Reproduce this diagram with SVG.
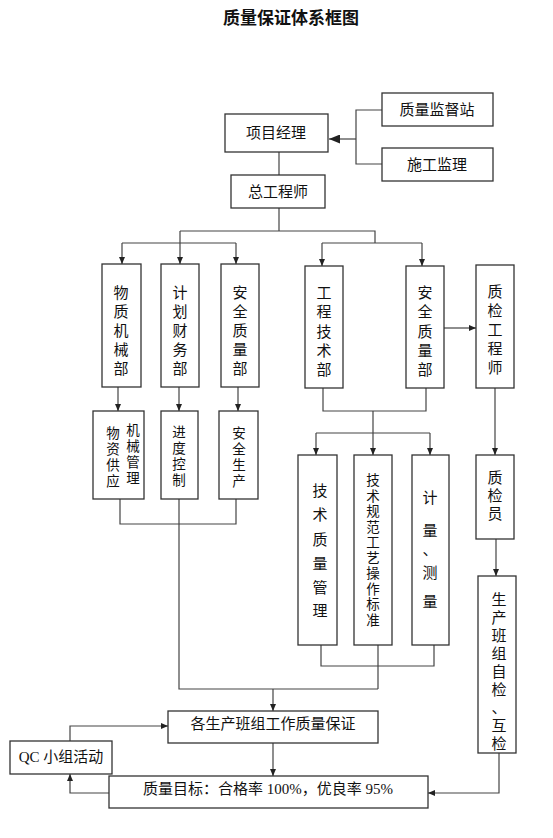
<svg xmlns="http://www.w3.org/2000/svg" width="553" height="838" viewBox="0 0 553 838">
<defs>
<marker id="ah" markerUnits="userSpaceOnUse" markerWidth="8" markerHeight="6" refX="7" refY="3" orient="auto">
<path d="M0,0 L7,3 L0,6 z" fill="#222"/>
</marker>
<marker id="ahL" markerUnits="userSpaceOnUse" markerWidth="12" markerHeight="9" refX="11" refY="4.5" orient="auto">
<path d="M0,0 L11,4.5 L0,9 z" fill="#222"/>
</marker>
</defs>
<style>
.b{fill:#fff;stroke:#333;stroke-width:1.3}
.t{font-family:"Liberation Serif","Noto Sans CJK SC",serif;font-size:15px;fill:#111;text-anchor:middle}
.v{font-family:"Liberation Sans","Noto Sans CJK SC",sans-serif;font-size:15px;fill:#111;text-anchor:middle}
.s{font-size:13.5px}
.c{fill:none;stroke:#444;stroke-width:1.2}
.a{marker-end:url(#ah)}
</style>
<rect width="553" height="838" fill="#fff"/>
<text x="291" y="24" style="font-family:'Liberation Sans','Noto Sans CJK SC',sans-serif;font-size:17px;font-weight:bold;fill:#111;text-anchor:middle">质量保证体系框图</text>

<g id="connectors">
<path class="c" d="M382,110 H356 V164 H382"/>
<path class="c" d="M356,139 H329" marker-end="url(#ahL)"/>
<path class="c" d="M279,152 V175"/>
<path class="c" d="M279,208 V231"/>
<path class="c" d="M180,231 H375 V243"/>
<path class="c a" d="M180,231 V264"/>
<path class="c" d="M122,243 H236"/>
<path class="c a" d="M122,243 V264"/>
<path class="c a" d="M236,243 V264"/>
<path class="c" d="M322,243 H422"/>
<path class="c a" d="M322,243 V266"/>
<path class="c a" d="M422,243 V266"/>
<path class="c a" d="M118,387 V411"/>
<path class="c a" d="M179,387 V411"/>
<path class="c a" d="M238,387 V411"/>
<path class="c" d="M120,499 V524 H236 V499"/>
<path class="c" d="M179,499 V689 H378"/>
<path class="c" d="M323,388 V411 H426 V388"/>
<path class="c a" d="M373,411 V455"/>
<path class="c" d="M316,433 H430"/>
<path class="c a" d="M316,433 V455"/>
<path class="c a" d="M430,433 V455"/>
<path class="c" d="M321,645 V666 H434 V645"/>
<path class="c" d="M378,645 V689"/>
<path class="c a" d="M273,689 V711"/>
<path class="c a" d="M273,743 V776"/>
<path class="c a" d="M444,328 H476"/>
<path class="c a" d="M495,388 V455"/>
<path class="c a" d="M496,539 V576"/>
<path class="c a" d="M499,753 V793 H428"/>
<path class="c a" d="M70,741 V726 H168"/>
<path class="c a" d="M109,793 H70 V774"/>
</g>

<g id="n-xmjl"><rect class="b" x="225" y="114" width="103" height="38"/><text class="t" x="276" y="138">项目经理</text></g>
<g id="n-zljdz"><rect class="b" x="382" y="93" width="111" height="33"/><text class="t" x="437" y="115">质量监督站</text></g>
<g id="n-sgjl"><rect class="b" x="382" y="148" width="111" height="33"/><text class="t" x="437" y="170">施工监理</text></g>
<g id="n-zgcs"><rect class="b" x="231" y="175" width="94" height="33"/><text class="t" x="278" y="197">总工程师</text></g>

<g id="n-wzjxb"><rect class="b" x="102" y="264" width="39" height="123"/>
<text class="v"><tspan x="121" y="298">物</tspan><tspan x="121" y="317">质</tspan><tspan x="121" y="336">机</tspan><tspan x="121" y="355">械</tspan><tspan x="121" y="374">部</tspan></text></g>
<g id="n-jhcwb"><rect class="b" x="161" y="264" width="38" height="123"/>
<text class="v"><tspan x="180" y="298">计</tspan><tspan x="180" y="317">划</tspan><tspan x="180" y="336">财</tspan><tspan x="180" y="355">务</tspan><tspan x="180" y="374">部</tspan></text></g>
<g id="n-aqzlb1"><rect class="b" x="221" y="264" width="38" height="123"/>
<text class="v"><tspan x="240" y="298">安</tspan><tspan x="240" y="317">全</tspan><tspan x="240" y="336">质</tspan><tspan x="240" y="355">量</tspan><tspan x="240" y="374">部</tspan></text></g>

<g id="n-gcjsb"><rect class="b" x="305" y="266" width="38" height="122"/>
<text class="v"><tspan x="324" y="298">工</tspan><tspan x="324" y="317">程</tspan><tspan x="324" y="337">技</tspan><tspan x="324" y="356">术</tspan><tspan x="324" y="375">部</tspan></text></g>
<g id="n-aqzlb2"><rect class="b" x="406" y="266" width="38" height="122"/>
<text class="v"><tspan x="425" y="298">安</tspan><tspan x="425" y="317">全</tspan><tspan x="425" y="337">质</tspan><tspan x="425" y="356">量</tspan><tspan x="425" y="375">部</tspan></text></g>
<g id="n-zjgcs"><rect class="b" x="476" y="265" width="38" height="123"/>
<text class="v"><tspan x="495" y="297">质</tspan><tspan x="495" y="316">检</tspan><tspan x="495" y="335">工</tspan><tspan x="495" y="354">程</tspan><tspan x="495" y="373">师</tspan></text></g>

<g id="n-wzgy"><rect class="b" x="93" y="411" width="51" height="88"/>
<text class="v s"><tspan x="113" y="438">物</tspan><tspan x="113" y="454">资</tspan><tspan x="113" y="470">供</tspan><tspan x="113" y="486">应</tspan></text>
<text class="v s"><tspan x="133" y="435">机</tspan><tspan x="133" y="451">械</tspan><tspan x="133" y="467">管</tspan><tspan x="133" y="483">理</tspan></text></g>
<g id="n-jdkz"><rect class="b" x="161" y="411" width="37" height="88"/>
<text class="v s"><tspan x="179" y="437">进</tspan><tspan x="179" y="453">度</tspan><tspan x="179" y="469">控</tspan><tspan x="179" y="485">制</tspan></text></g>
<g id="n-aqsc"><rect class="b" x="219" y="411" width="39" height="88"/>
<text class="v s"><tspan x="239" y="438">安</tspan><tspan x="239" y="454">全</tspan><tspan x="239" y="470">生</tspan><tspan x="239" y="486">产</tspan></text></g>

<g id="n-jszlgl"><rect class="b" x="298" y="455" width="39" height="190"/>
<text class="v"><tspan x="320" y="496">技</tspan><tspan x="320" y="520">术</tspan><tspan x="320" y="545">质</tspan><tspan x="320" y="569">量</tspan><tspan x="320" y="593">管</tspan><tspan x="320" y="616">理</tspan></text></g>
<g id="n-jsgf"><rect class="b" x="354" y="455" width="38" height="190"/>
<text class="v s"><tspan x="373" y="485">技</tspan><tspan x="373" y="500.5">术</tspan><tspan x="373" y="516">规</tspan><tspan x="373" y="531.5">范</tspan><tspan x="373" y="547">工</tspan><tspan x="373" y="562.5">艺</tspan><tspan x="373" y="578">操</tspan><tspan x="373" y="593.5">作</tspan><tspan x="373" y="609">标</tspan><tspan x="373" y="624.5">准</tspan></text></g>
<g id="n-jlcl"><rect class="b" x="412" y="455" width="37" height="190"/>
<text class="v"><tspan x="430" y="503">计</tspan><tspan x="430" y="536">量</tspan><tspan x="430" y="555">、</tspan><tspan x="430" y="578">测</tspan><tspan x="430" y="607">量</tspan></text></g>

<g id="n-zjy"><rect class="b" x="476" y="455" width="38" height="84"/>
<text class="v"><tspan x="495" y="483">质</tspan><tspan x="495" y="501">检</tspan><tspan x="495" y="519">员</tspan></text></g>
<g id="n-scbz"><rect class="b" x="478" y="576" width="38" height="177"/>
<text class="v"><tspan x="499" y="605">生</tspan><tspan x="499" y="623">产</tspan><tspan x="499" y="641">班</tspan><tspan x="499" y="659">组</tspan><tspan x="499" y="677">自</tspan><tspan x="499" y="695">检</tspan><tspan x="499" y="713">、</tspan><tspan x="499" y="731">互</tspan><tspan x="499" y="749">检</tspan></text></g>

<g id="n-gscbz"><rect class="b" x="168" y="711" width="210" height="32"/><text class="t" x="273" y="729">各生产班组工作质量保证</text></g>
<g id="n-qc"><rect class="b" x="10" y="741" width="102" height="33"/><text class="t" x="61" y="762">QC 小组活动</text></g>
<g id="n-zlmb"><rect class="b" x="109" y="776" width="319" height="32"/><text class="t" x="268" y="794">质量目标：合格率 100%，优良率 95%</text></g>
</svg>
